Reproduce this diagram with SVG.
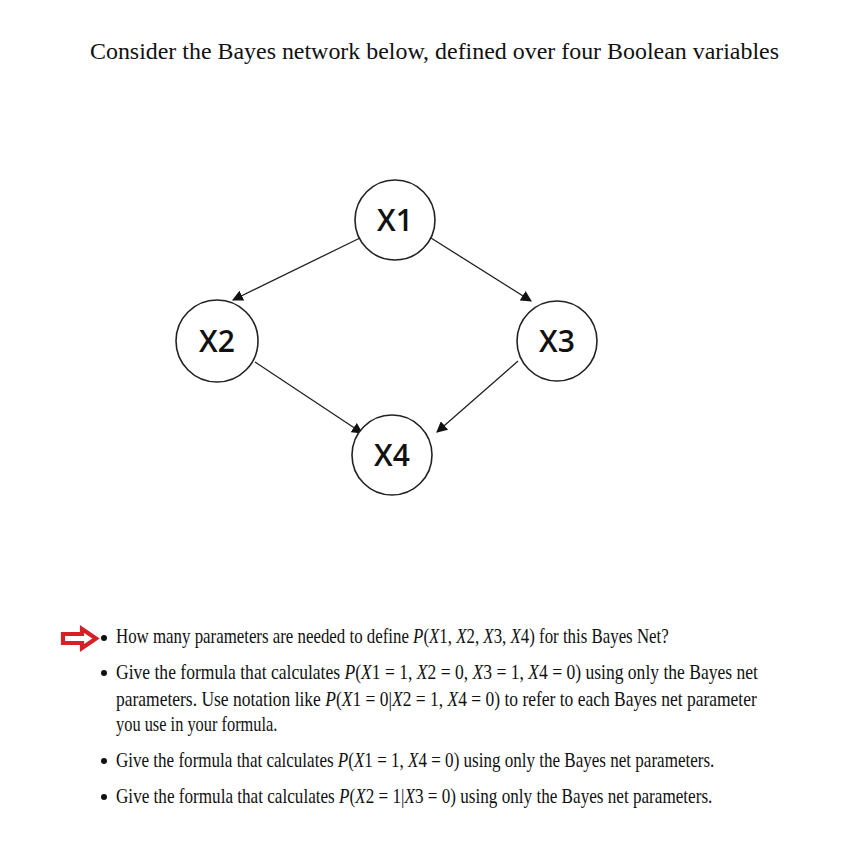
<svg xmlns="http://www.w3.org/2000/svg" width="847" height="845" viewBox="0 0 847 845">
<style>
.node circle{fill:#fff;stroke:#222;stroke-width:1.6}
.node text{font-family:"Open Sans","Liberation Sans",sans-serif;font-weight:600;font-size:30px;fill:#111;text-anchor:middle}
.edge{stroke:#222;stroke-width:1.3;fill:none;marker-end:url(#ah)}
.t{font-family:"Liberation Serif","DejaVu Serif",serif;fill:#111}
.b{font-size:21px}
.i{font-style:italic}
</style>
<defs>
<marker id="ah" viewBox="0 0 10 10" refX="9" refY="5" markerWidth="11" markerHeight="11" markerUnits="userSpaceOnUse" orient="auto">
<path d="M0,0 L10,5 L0,10 z" fill="#111"/>
</marker>
</defs>
<rect width="847" height="845" fill="#fff"/>
<text class="t" x="90" y="59" font-size="23" textLength="689" lengthAdjust="spacingAndGlyphs">Consider the Bayes network below, defined over four Boolean variables</text>
<g id="connectors">
<line class="edge" x1="360" y1="238" x2="233" y2="300"/>
<line class="edge" x1="431" y1="238" x2="531" y2="301"/>
<line class="edge" x1="255" y1="362" x2="362" y2="433"/>
<line class="edge" x1="518" y1="361" x2="437" y2="432"/>
</g>
<g id="X1" class="node"><circle cx="395" cy="220" r="40"/><text x="395" y="231">X1</text></g>
<g id="X2" class="node"><circle cx="217" cy="341" r="41"/><text x="217" y="352">X2</text></g>
<g id="X3" class="node"><circle cx="557" cy="341" r="40"/><text x="557" y="352">X3</text></g>
<g id="X4" class="node"><circle cx="392" cy="455" r="40"/><text x="392" y="466">X4</text></g>
<polygon points="63,634 82,634 82,629 96,638.5 82,648 82,643 63,643" fill="#fff" stroke="#d42128" stroke-width="4.2" stroke-linejoin="miter"/>
<g class="t b">
<circle cx="104" cy="638" r="3" fill="#111"/>
<circle cx="104" cy="673" r="3" fill="#111"/>
<circle cx="104" cy="761" r="3" fill="#111"/>
<circle cx="104" cy="797" r="3" fill="#111"/>
<text transform="translate(116,643) scale(0.803,1)">How many parameters are needed to define <tspan class="i">P</tspan>(<tspan class="i">X</tspan>1, <tspan class="i">X</tspan>2, <tspan class="i">X</tspan>3, <tspan class="i">X</tspan>4) for this Bayes Net?</text>
<text transform="translate(116,679) scale(0.836,1)">Give the formula that calculates <tspan class="i">P</tspan>(<tspan class="i">X</tspan>1 = 1, <tspan class="i">X</tspan>2 = 0, <tspan class="i">X</tspan>3 = 1, <tspan class="i">X</tspan>4 = 0) using only the Bayes net</text>
<text transform="translate(116,706) scale(0.833,1)">parameters. Use notation like <tspan class="i">P</tspan>(<tspan class="i">X</tspan>1 = 0|<tspan class="i">X</tspan>2 = 1, <tspan class="i">X</tspan>4 = 0) to refer to each Bayes net parameter</text>
<text transform="translate(116,731) scale(0.78,1)">you use in your formula.</text>
<text transform="translate(116,767) scale(0.812,1)">Give the formula that calculates <tspan class="i">P</tspan>(<tspan class="i">X</tspan>1 = 1, <tspan class="i">X</tspan>4 = 0) using only the Bayes net parameters.</text>
<text transform="translate(116,803) scale(0.816,1)">Give the formula that calculates <tspan class="i">P</tspan>(<tspan class="i">X</tspan>2 = 1|<tspan class="i">X</tspan>3 = 0) using only the Bayes net parameters.</text>
</g>
</svg>
